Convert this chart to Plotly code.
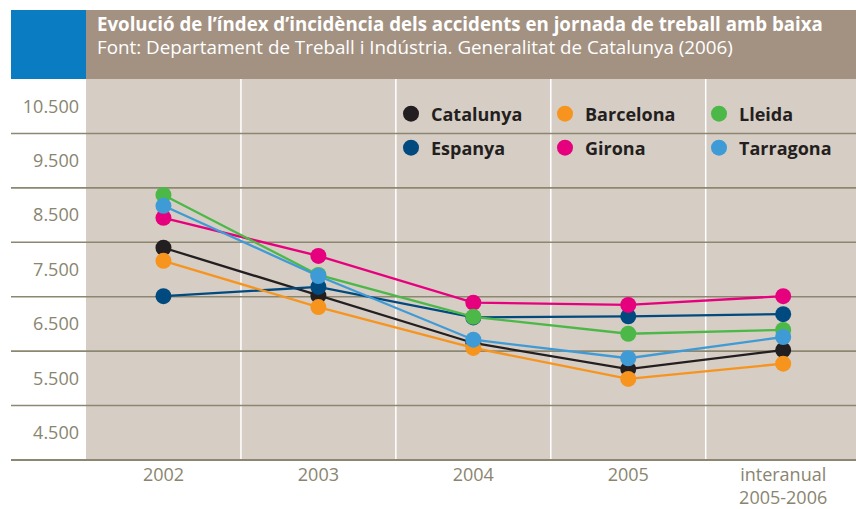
import plotly.graph_objects as go

# ---------------- data ----------------
categories = ["2002", "2003", "2004", "2005", "interanual<br>2005-2006"]

catalunya = [7900, 7020, 6150, 5670, 6020]
barcelona = [7660, 6810, 6060, 5490, 5770]
lleida    = [8870, 7400, 6630, 6320, 6390]
espanya   = [7010, 7180, 6620, 6640, 6680]
girona    = [8450, 7750, 6890, 6850, 7010]
tarragona = [8670, 7380, 6210, 5870, 6260]

series_names = ["Catalunya", "Espanya", "Barcelona", "Girona", "Lleida", "Tarragona"]
series_values = [catalunya, espanya, barcelona, girona, lleida, tarragona]
series_colors = ["#231f20", "#004a80", "#f7941d", "#e6007e", "#4cb848", "#3f9bd6"]
series_legend = ["legend", "legend2", "legend", "legend2", "legend", "legend2"]

y_label_vals = [4500, 5500, 6500, 7500, 8500, 9500, 10500]
y_label_text = ["4.500", "5.500", "6.500", "7.500", "8.500", "9.500", "10.500"]
grid_vals = [5000, 6000, 7000, 8000, 9000, 10000]
y_range = [4000, 11000]

title = "Evolució de l’índex d’incidència dels accidents en jornada de treball amb baixa"
subtitle = "Font: Departament de Treball i Indústria. Generalitat de Catalunya (2006)"

# ---------------- style ----------------
W, H = 856, 509
L, R, T, B = 86, 0, 79, 49
pw, ph = W - L - R, H - T - B
FONT = "Open Sans"
BG = "#d6cdc4"
GRID = "#8c8770"
LABEL = "#898570"
left_ext = (11 - L) / pw

fig = go.Figure()

for name, vals, col, lg in zip(series_names, series_values, series_colors, series_legend):
    fig.add_trace(go.Scatter(
        x=categories, y=vals, mode="lines", name=name,
        line=dict(color=col, width=2.3), showlegend=False, hoverinfo="skip"))
    fig.add_trace(go.Scatter(
        x=categories, y=vals, mode="markers", name=name, legend=lg,
        marker=dict(color=col, size=16, line=dict(width=0)), showlegend=True))

shapes = []
# header banner
shapes.append(dict(type="rect", xref="paper", yref="paper", x0=left_ext, x1=0,
                   y0=1, y1=1 + (T - 10) / ph, fillcolor="#0a7dc2", line=dict(width=0)))
shapes.append(dict(type="rect", xref="paper", yref="paper", x0=0, x1=1,
                   y0=1, y1=1 + (T - 10) / ph, fillcolor="#a39282", line=dict(width=0)))
# white vertical separators between categories
for i in range(len(categories) - 1):
    shapes.append(dict(type="line", xref="x", yref="paper", x0=i + 0.5, x1=i + 0.5,
                       y0=0, y1=1, line=dict(color="white", width=1.5), layer="below"))
# horizontal grid lines extending into the label column
for v in grid_vals:
    shapes.append(dict(type="line", xref="paper", yref="y", x0=left_ext, x1=1,
                       y0=v, y1=v, line=dict(color=GRID, width=1.6), layer="below"))
shapes.append(dict(type="line", xref="paper", yref="y domain", x0=left_ext, x1=1,
                   y0=0, y1=0, line=dict(color=GRID, width=2), layer="below"))

annotations = [
    dict(text="<b>" + title + "</b>", xref="paper", yref="paper", x=(95 - L) / pw,
         y=1 + (T - 24) / ph, xanchor="left", yanchor="middle", showarrow=False,
         font=dict(family=FONT, size=18.7, color="white")),
    dict(text=subtitle, xref="paper", yref="paper", x=(95 - L) / pw,
         y=1 + (T - 47.5) / ph, xanchor="left", yanchor="middle", showarrow=False,
         font=dict(family=FONT, size=18.8, color="white")),
]

legend_common = dict(
    orientation="h", xref="paper", yref="paper", xanchor="left", yanchor="middle",
    entrywidth=109, entrywidthmode="pixels", bgcolor="rgba(0,0,0,0)",
    font=dict(family=FONT, size=18, color="#231f20", weight="bold"),
    itemclick=False, itemdoubleclick=False, tracegroupgap=0,
)

fig.update_layout(
    width=W, height=H,
    margin=dict(l=L, r=R, t=T, b=B, pad=0, autoexpand=False),
    paper_bgcolor="white", plot_bgcolor=BG,
    font=dict(family=FONT, color=LABEL),
    showlegend=True,
    legend=dict(x=(410 - 19 - L) / pw, y=1 - (114 - T) / ph, **legend_common),
    legend2=dict(x=(410 - 19 - L) / pw, y=1 - (148 - T) / ph, **legend_common),
    shapes=shapes, annotations=annotations,
    xaxis=dict(type="category", range=[-0.5, 4.47], showgrid=False, zeroline=False,
               showline=False, ticks="", ticklabelstandoff=2, automargin=False,
               tickfont=dict(family=FONT, size=18, color=LABEL), fixedrange=True),
    yaxis=dict(range=y_range, showgrid=False, zeroline=False, showline=False,
               tickvals=y_label_vals, ticktext=y_label_text, ticks="",
               ticklabelstandoff=6, automargin=False,
               tickfont=dict(family=FONT, size=18, color=LABEL), fixedrange=True),
    hovermode=False,
)

fig.write_html("out.html",
               config={"displayModeBar": False, "staticPlot": True},
               post_script="document.body.style.margin='0';document.body.style.overflow='hidden';")
